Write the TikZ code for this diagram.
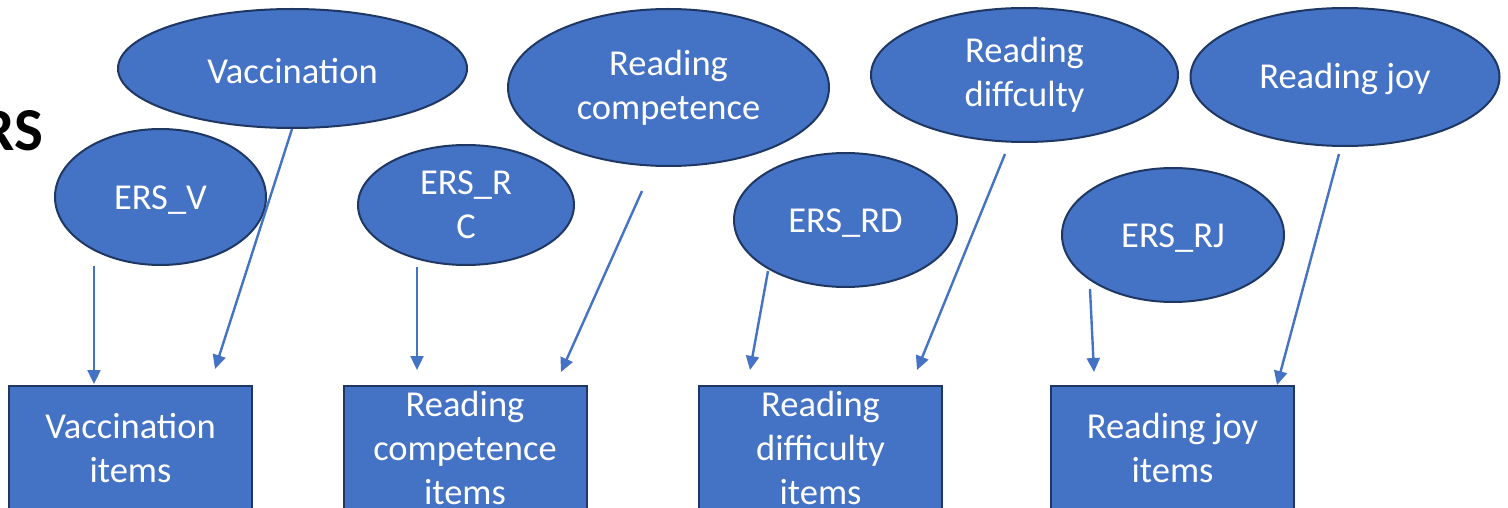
\documentclass[tikz,border=0pt]{standalone}
\usepackage{fontspec}
\setmainfont{Carlito}
\usetikzlibrary{arrows.meta,shapes.geometric,calc}
\definecolor{ersblue}{HTML}{4472C4}
\definecolor{ersline}{HTML}{1F3763}

\begin{document}
\begin{tikzpicture}[x=1pt,y=-1pt,>={Triangle[length=14pt,width=13pt]},
  every node/.style={text=white,font=\fontsize{36.5}{44}\selectfont,align=center,inner sep=0pt},
  factor/.style={ellipse,draw=ersline,line width=2pt,fill=ersblue,execute at begin node={\rule{0pt}{29.5pt}}},
  items/.style={rectangle,draw=ersline,line width=2pt,fill=ersblue,minimum width=243pt,minimum height=124pt},
  link/.style={->,draw=ersblue,fill=ersblue,line width=2.4pt}]
  \useasboundingbox (0,0) rectangle (1508,508);
  \clip (0,0) rectangle (1508,508);
  \node[text=black,font=\fontsize{61}{70}\selectfont\bfseries,anchor=base east] (ershead) at (43,150) {RS};
  \node[factor,minimum width=349pt,minimum height=119pt] (vacc) at (292.5,68.5) {Vaccination};
  \node[factor,minimum width=211pt,minimum height=136pt] (ersv) at (160.5,197) {ERS\_V};
  \node[factor,minimum width=321pt,minimum height=157pt] (rc) at (668.5,87.5) {Reading\\competence};
  \node[factor,minimum width=216pt,minimum height=120pt] (ersrc) at (466,205) {ERS\_R\\C};
  \node[factor,minimum width=307pt,minimum height=134pt] (rd) at (1024.5,75) {Reading\\diffculty};
  \node[factor,minimum width=223pt,minimum height=134pt] (ersrd) at (845.5,220) {ERS\_RD};
  \node[factor,minimum width=309pt,minimum height=138pt] (rj) at (1345,77) {Reading joy};
  \node[factor,minimum width=222pt,minimum height=134pt] (ersrj) at (1173,235) {ERS\_RJ};
  \node[items] (vaccitems) at (130.5,448) {Vaccination\\items};
  \node[items] (rcitems) at (465,448) {Reading\\competence\\items};
  \node[items] (rditems) at (820.5,448) {Reading\\difficulty\\items};
  \node[items] (rjitems) at (1172.5,448) {Reading joy\\items};
  \draw[link] ($(ersv.south)+(-66.5,0)$) -- ($(vaccitems.north)+(-36.5,-1)$);
  \draw[link] ($(vacc.south)+(-0.5,0)$) -- ($(vaccitems.north)+(84.5,-16)$);
  \draw[link] ($(ersrc.south)+(-49,1)$) -- ($(rcitems.north)+(-48,-15)$);
  \draw[link] ($(rc.south)+(-26.5,24)$) -- ($(rcitems.north)+(96,-13)$);
  \draw[link] ($(ersrd.south)+(-77.5,-17)$) -- ($(rditems.north)+(-70.5,-15)$);
  \draw[link] ($(rd.south)+(-19.5,11)$) -- ($(rditems.north)+(96.5,-15)$);
  \draw[link] ($(ersrj.south)+(-83,-14)$) -- ($(rjitems.north)+(-78.5,-13)$);
  \draw[link] ($(rj.south)+(-6,7)$) -- ($(rjitems.north)+(104.5,0)$);
\end{tikzpicture}
\end{document}
